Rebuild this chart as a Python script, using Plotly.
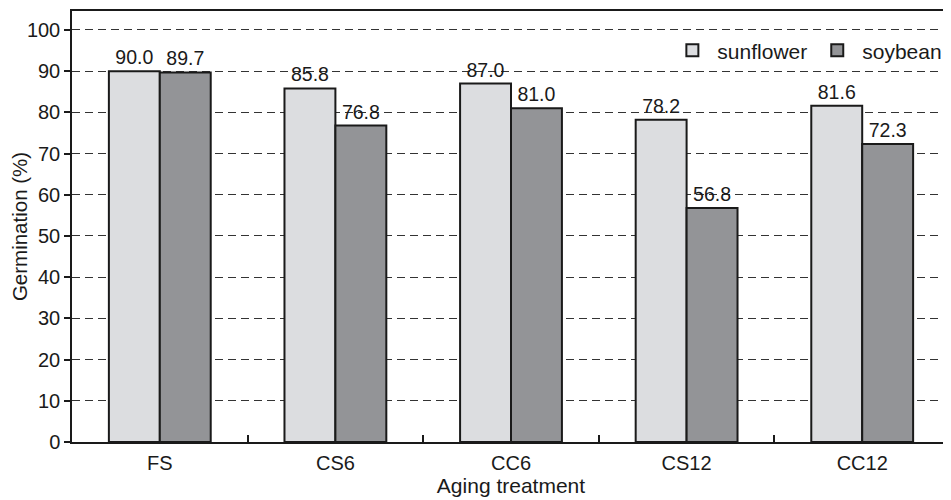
import plotly.graph_objects as go

categories = ["FS", "CS6", "CC6", "CS12", "CC12"]
sunflower = [90.0, 85.8, 87.0, 78.2, 81.6]
soybean = [89.7, 76.8, 81.0, 56.8, 72.3]
y_ticks = [0, 10, 20, 30, 40, 50, 60, 70, 80, 90, 100]

FONT = "Liberation Sans, Arial, sans-serif"
TXT = "#1a1a1a"

fig = go.Figure()
fig.add_trace(go.Bar(
    x=categories, y=sunflower, name="sunflower",
    marker=dict(color="#dcdde0", line=dict(color="#1a1a1a", width=2)),
    texttemplate="%{y:.1f}", textposition="outside", cliponaxis=False,
    textfont=dict(size=19.5, color=TXT, family=FONT),
))
fig.add_trace(go.Bar(
    x=categories, y=soybean, name="soybean",
    marker=dict(color="#939497", line=dict(color="#1a1a1a", width=2)),
    texttemplate="%{y:.1f}", textposition="outside", cliponaxis=False,
    textfont=dict(size=19.5, color=TXT, family=FONT),
))

fig.update_layout(
    width=943, height=492,
    margin=dict(l=61, r=1, t=1, b=58),
    paper_bgcolor="white", plot_bgcolor="white",
    barmode="group", bargap=0.42, bargroupgap=0,
    font=dict(family=FONT, size=20, color=TXT),
    showlegend=True,
    legend=dict(
        orientation="h", x=0.997, xanchor="right", y=0.908, yanchor="middle",
        bgcolor="rgba(255,255,255,0)", font=dict(size=21, color=TXT, family=FONT),
        itemwidth=40, traceorder="normal",
    ),
    xaxis=dict(
        title=dict(text="Aging treatment", standoff=1, font=dict(size=21)),
        showline=True, linecolor="#1a1a1a", linewidth=1.5, mirror=True,
        ticks="inside", tickson="boundaries", ticklen=7, tickcolor="#1a1a1a", tickwidth=1.5,
        ticklabelstandoff=2,
        tickfont=dict(size=20),
        showgrid=False,
    ),
    yaxis=dict(
        title=dict(text="Germination (%)", standoff=4, font=dict(size=20.5)),
        range=[0, 104.6], tickvals=y_ticks,
        tickfont=dict(size=20),
        showline=True, linecolor="#1a1a1a", linewidth=1.5,
        ticks="outside", ticklen=6, tickcolor="#1a1a1a", tickwidth=1.5,
        showgrid=True, gridcolor="#333333", gridwidth=1, griddash="8px,5px",
        zeroline=False,
    ),
)

fig.write_html("out.html")
